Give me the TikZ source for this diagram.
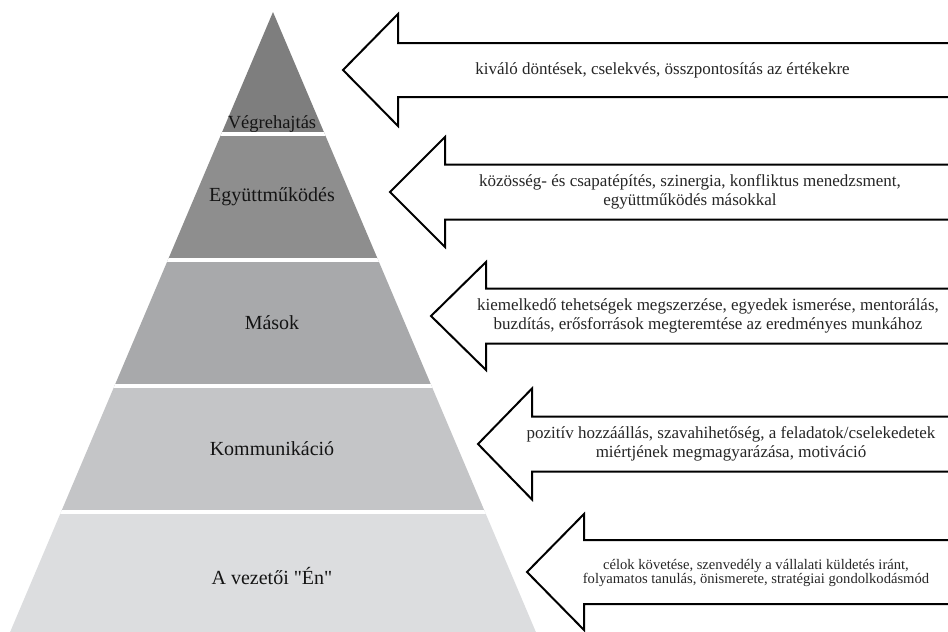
\documentclass[tikz,border=0pt]{standalone}
\usepackage{fontspec}
\setmainfont{Liberation Serif}
\definecolor{layA}{HTML}{7E7E7E}
\definecolor{layB}{HTML}{8E8E8E}
\definecolor{layC}{HTML}{A8A9AB}
\definecolor{layD}{HTML}{C4C5C7}
\definecolor{layE}{HTML}{DCDDDF}
\newcommand\straightquote{\XeTeXglyph\XeTeXcharglyph"22\relax}
\newcommand\leftbigarrow[5]{% tip x, centre y, head depth, head half height, shaft half height
  \filldraw[arrowbox] (952,#2-#5) -- (#1+#3,#2-#5) -- (#1+#3,#2-#4) -- (#1,#2)
    -- (#1+#3,#2+#4) -- (#1+#3,#2+#5) -- (952,#2+#5);
}
\begin{document}
\begin{tikzpicture}[x=1pt,y=-1pt,
  arrowbox/.style={draw=black, line width=2pt, fill=white, line join=miter},
  lbl/.style={font=\fontsize{20}{22}\selectfont, inner sep=0pt, text=black!92},
  atext/.style={font=\fontsize{17}{18.5}\selectfont, align=center, inner sep=0pt, text=black!85},
  stext/.style={font=\fontsize{14.6}{14.2}\selectfont, align=center, inner sep=0pt, text=black!85},
  gap/.style={white, line width=4pt}
]
\useasboundingbox (0,0) rectangle (948,632);
\begin{scope}
\clip (0,0) rectangle (948,632);
% pyramid
\begin{scope}
\clip (273,12) -- ({273+0.424*622},634) -- ({273-0.424*622},634) -- cycle;
\fill[layA] (0,0) rectangle (948,134);
\fill[layB] (0,134) rectangle (948,260);
\fill[layC] (0,260) rectangle (948,386);
\fill[layD] (0,386) rectangle (948,512);
\fill[layE] (0,512) rectangle (948,640);
\draw[gap] (0,134) -- (948,134);
\draw[gap] (0,260) -- (948,260);
\draw[gap] (0,386) -- (948,386);
\draw[gap] (0,512) -- (948,512);
\end{scope}
\node[lbl, font=\fontsize{18.5}{20}\selectfont, anchor=base] (l1) at (272,128) {Végrehajtás};
\node[lbl] (l2) at (272,197) {Együttműködés};
\node[lbl] (l3) at (272,323) {Mások};
\node[lbl] (l4) at (272,449) {Kommunikáció};
\node[lbl] (l5) at (272,576) {A vezetői \straightquote Én\straightquote};
% arrows
\leftbigarrow{343}{70}{55}{56}{27}
\leftbigarrow{390}{192}{55}{55}{27.5}
\leftbigarrow{431}{316}{55}{54}{27.5}
\leftbigarrow{478}{444}{54}{55.5}{27.5}
\leftbigarrow{527}{572}{57}{58}{32}
\end{scope}
\node[atext] (t1) at (662.5,70) {kiváló döntések, cselekvés, összpontosítás az értékekre};
\node[atext] (t2) at (690,192) {közösség- és csapatépítés, szinergia, konfliktus menedzsment,\\együttműködés másokkal};
\node[atext] (t3) at (708,316) {kiemelkedő tehetségek megszerzése, egyedek ismerése, mentorálás,\\buzdítás, erősforrások megteremtése az eredményes munkához};
\node[atext] (t4) at (731,444) {pozitív hozzáállás, szavahihetőség, a feladatok/cselekedetek\\miértjének megmagyarázása, motiváció};
\node[stext] (t5) at (756,573) {célok követése, szenvedély a vállalati küldetés iránt,\\folyamatos tanulás, önismerete, stratégiai gondolkodásmód};
\end{tikzpicture}
\end{document}
